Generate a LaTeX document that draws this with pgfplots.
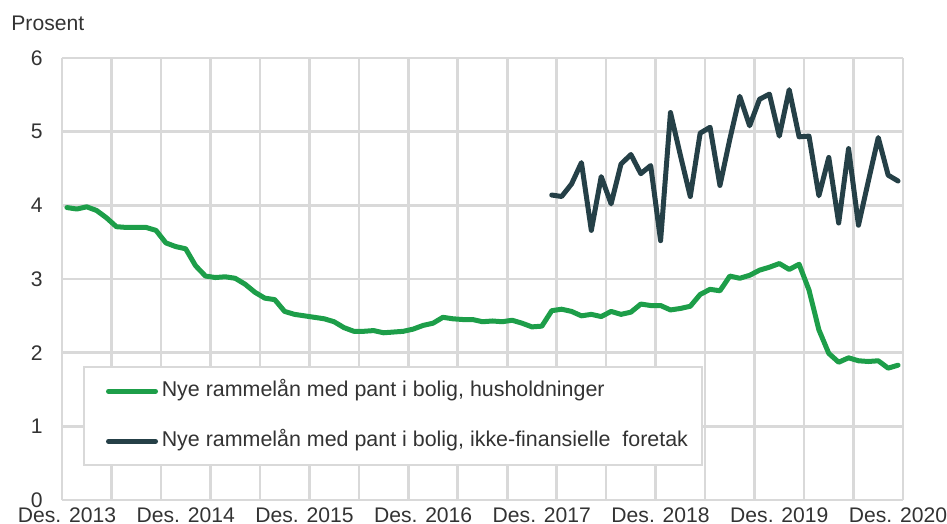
\documentclass[border=0pt]{standalone}
\usepackage{pgfplots}
\pgfplotsset{compat=1.18}
\usepackage{pgfplotstable}
\usepackage{fontspec}
\setmainfont{Liberation Sans}
\definecolor{hhgreen}{RGB}{29,158,73}
\definecolor{nfdark}{RGB}{37,64,71}
\definecolor{gridgray}{RGB}{217,217,217}
\definecolor{textgray}{RGB}{51,51,51}

\pgfplotstableread{
i v
0 3.97
1 3.95
2 3.98
3 3.93
4 3.83
5 3.71
6 3.70
7 3.70
8 3.70
9 3.66
10 3.49
11 3.44
12 3.41
13 3.18
14 3.04
15 3.02
16 3.03
17 3.01
18 2.93
19 2.82
20 2.74
21 2.72
22 2.56
23 2.52
24 2.50
25 2.48
26 2.46
27 2.42
28 2.34
29 2.29
30 2.29
31 2.30
32 2.27
33 2.28
34 2.29
35 2.32
36 2.37
37 2.40
38 2.48
39 2.46
40 2.45
41 2.45
42 2.42
43 2.43
44 2.42
45 2.44
46 2.40
47 2.35
48 2.36
49 2.57
50 2.59
51 2.56
52 2.50
53 2.52
54 2.49
55 2.56
56 2.52
57 2.55
58 2.66
59 2.64
60 2.64
61 2.58
62 2.60
63 2.63
64 2.79
65 2.86
66 2.84
67 3.04
68 3.01
69 3.05
70 3.12
71 3.16
72 3.21
73 3.13
74 3.20
75 2.85
76 2.31
77 1.99
78 1.87
79 1.93
80 1.89
81 1.88
82 1.89
83 1.79
84 1.83
}\husholdninger

\pgfplotstableread{
i v
49 4.14
50 4.12
51 4.29
52 4.58
53 3.66
54 4.39
55 4.02
56 4.56
57 4.69
58 4.43
59 4.54
60 3.52
61 5.26
62 4.68
63 4.12
64 4.98
65 5.06
66 4.27
67 4.90
68 5.48
69 5.08
70 5.44
71 5.51
72 4.94
73 5.57
74 4.93
75 4.94
76 4.13
77 4.65
78 3.76
79 4.77
80 3.73
81 4.33
82 4.92
83 4.41
84 4.33
}\foretak

\begin{document}
\begin{tikzpicture}
\useasboundingbox (0,0) rectangle (473.5bp,262bp);
\begin{axis}[
  at={(31bp,12bp)}, anchor=south west,
  scale only axis, width=420.5bp, height=221bp,
  xmin=-0.5, xmax=84.5, ymin=0, ymax=6,
  axis line style={draw=none},
  xtick={0,12,24,36,48,60,72,84},
  xticklabels={Des. 2013,Des. 2014,Des. 2015,Des. 2016,Des. 2017,Des. 2018,Des. 2019,Des. 2020},
  minor xtick={-0.5,4.5,...,84.5},
  xminorgrids=true, xmajorgrids=false,
  ytick={0,1,...,6}, ymajorgrids=true,
  grid style={draw=gridgray, line width=1.3bp},
  minor grid style={draw=gridgray, line width=1.3bp},
  major tick length=0pt, minor tick length=0pt,
  tick style={draw=none},
  /pgf/number format/assume math mode=true,
  ticklabel style={font=\fontsize{10.6}{12}\selectfont, text=textgray, inner sep=0pt},
  xticklabel style={anchor=north, yshift=-3.5bp},
  yticklabel style={anchor=east, xshift=-9.5bp},
  legend style={
    at={(rel axis cs:0.025,0.303)}, anchor=north west,
    draw=gridgray, line width=1.2bp, fill=white,
    inner xsep=5.1bp, inner ysep=6.75bp,
    row sep=14.5bp,
    font=\fontsize{10.75}{12}\selectfont, text=textgray,
    nodes={inner xsep=1.875bp, inner ysep=0pt, text height=8bp, text depth=2.5bp},
  },
  legend cell align=left,
  legend image code/.code={\path (0bp,0bp); \draw[#1, line width=2.5bp, line cap=round] (5.8bp,0bp) -- (29.3bp,0bp);},
]
\addplot[hhgreen, line width=2.5bp, line join=round, line cap=round] table[x=i, y=v] {\husholdninger};
\addlegendentry{Nye rammelån med pant i bolig, husholdninger}
\addplot[nfdark, line width=2.5bp, line join=round, line cap=round] table[x=i, y=v] {\foretak};
\addlegendentry{Nye rammelån med pant i bolig, ikke-finansielle\ \ foretak}
\end{axis}
\node[anchor=base west, inner sep=0pt, font=\fontsize{10.6}{12}\selectfont, text=textgray] at (5.5bp,246.5bp) {Prosent};
\end{tikzpicture}
\end{document}
